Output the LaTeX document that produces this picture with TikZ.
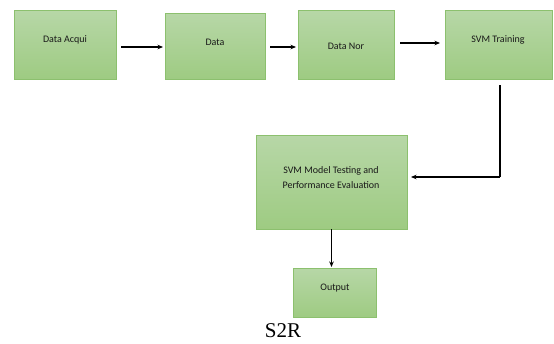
\documentclass[tikz,border=0pt]{standalone}
\usepackage{fontspec}
\newfontfamily\boxfont{Carlito}
\setmainfont{Liberation Serif}
\usetikzlibrary{arrows.meta}
\definecolor{gtop}{RGB}{183,215,167}
\definecolor{gbot}{RGB}{158,203,130}
\definecolor{gedge}{RGB}{140,192,110}
\begin{document}
\begin{tikzpicture}[x=1pt,y=-1pt,
  stagebox/.style={draw=gedge,line width=0.8pt,top color=gtop,bottom color=gbot,inner sep=0pt},
  lbl/.style={font=\boxfont\fontsize{10}{15}\selectfont,align=center,text=black!90},
  conn/.style={line width=1.3pt,-{Stealth[length=5.5pt,width=4.5pt]}}]
\useasboundingbox (0,0) rectangle (554,343);
% boxes
\path[stagebox] (14,10) rectangle (116,79);
\path[stagebox] (165,13) rectangle (265,79);
\path[stagebox] (298,10) rectangle (394,79);
\path[stagebox] (445,10) rectangle (552,79);
\path[stagebox] (256,135) rectangle (407,229);
\path[stagebox] (293,268) rectangle (376,317);
% invisible named nodes spanning the boxes
\node[minimum width=102pt,minimum height=69pt] (b1) at (65,44.5) {};
\node[minimum width=100pt,minimum height=66pt] (b2) at (215,46) {};
\node[minimum width=96pt,minimum height=69pt] (b3) at (346,44.5) {};
\node[minimum width=107pt,minimum height=69pt] (b4) at (498.5,44.5) {};
\node[minimum width=151pt,minimum height=94pt] (b5) at (331.5,182) {};
\node[minimum width=83pt,minimum height=49pt] (b6) at (334.5,292.5) {};
% labels
\node[lbl] (t1) at (65,40) {Data Acqui};
\node[lbl] (t2) at (215,42) {Data};
\node[lbl] (t3) at (346,46) {Data Nor};
\node[lbl] (t4) at (498,40) {SVM Training};
\node[lbl] (t5) at (331,178) {SVM Model Testing and\\Performance Evaluation};
\node[lbl] (t6) at (335,288) {Output};
\node[font=\fontsize{21}{23}\selectfont,inner sep=0pt] (s2r) at (283,331) {S2R};
% connectors
\coordinate (a1s) at (121,47); \coordinate (a1e) at (163,47);
\draw[conn] (a1s) -- (a1e);
\coordinate (a2s) at (270,47); \coordinate (a2e) at (296,47);
\draw[conn] (a2s) -- (a2e);
\coordinate (a3s) at (400,43); \coordinate (a3e) at (440,43);
\draw[conn] (a3s) -- (a3e);
\coordinate (a4s) at (500,85); \coordinate (a4c) at (500,177); \coordinate (a4e) at (411,177);
\draw[line width=1.8pt] (a4s) -- (a4c);
\draw[conn] (a4c) -- (a4e);
\draw[conn] (b5.south) -- (331.5,267);
\end{tikzpicture}
\end{document}
